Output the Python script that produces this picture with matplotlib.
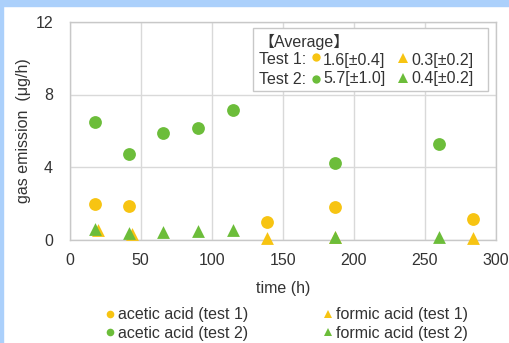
import numpy as np
import matplotlib
matplotlib.use('Agg')
import matplotlib.pyplot as plt
from matplotlib.lines import Line2D
from matplotlib.patches import Rectangle

plt.rcParams['font.family'] = ['Liberation Sans', 'DejaVu Sans', 'Noto Sans CJK JP']
plt.rcParams['font.size'] = 11.5

# data
t_acetic1 = [18, 42, 139, 187, 284]
acetic1   = [1.96, 1.83, 0.97, 1.80, 1.12]
t_acetic2 = [18, 42, 66, 90, 115, 187, 260]
acetic2   = [6.49, 4.72, 5.85, 6.14, 7.15, 4.23, 5.26]
t_formic1 = [20, 44, 139, 187, 284]
formic1   = [0.55, 0.33, 0.08, 0.14, 0.08]
t_formic2 = [18, 42, 66, 90, 115, 187, 260]
formic2   = [0.56, 0.36, 0.43, 0.45, 0.52, 0.14, 0.15]

xticks = [0, 50, 100, 150, 200, 250, 300]
yticks = [0, 4, 8, 12]

yellow = '#F7C412'
green  = '#6CBD3A'
W, H = 510, 343
fs = 11.5

fig = plt.figure(figsize=(W/100, H/100), dpi=100, facecolor='white')
# light blue frame at top and left
fig.patches.append(Rectangle((0, 1-6/H), 1, 6/H, transform=fig.transFigure, color='#abd0fb', zorder=0))
fig.patches.append(Rectangle((0, 0), 3/W, 1, transform=fig.transFigure, color='#abd0fb', zorder=0))

ax = fig.add_axes([69.7/W, 1-239.5/H, (496-69.7)/W, (239.5-22)/H])
ax.scatter(t_acetic1, acetic1, s=85, marker='o', color=yellow, zorder=3, linewidths=0)
ax.scatter(t_acetic2, acetic2, s=85, marker='o', color=green, zorder=3, linewidths=0)
ax.scatter(t_formic1, formic1, s=85, marker='^', color=yellow, zorder=4, linewidths=0, clip_on=False)
ax.scatter(t_formic2, formic2, s=85, marker='^', color=green, zorder=5, linewidths=0, clip_on=False)

ax.set_xlim(0, 300)
ax.set_ylim(0, 12)
ax.set_xticks(xticks)
ax.set_yticks(yticks)
ax.grid(True, color='#d9d9d9', linewidth=1)
ax.set_axisbelow(True)
for sp in ax.spines.values():
    sp.set_color('#c8c8c8')
    sp.set_linewidth(1)
ax.tick_params(length=0, colors='#333333', labelsize=fs)
ax.tick_params(axis='y', pad=12)
ax.tick_params(axis='x', pad=10)
ax.set_xlabel('time (h)', fontsize=fs, color='#333333', labelpad=9)
ax.set_ylabel('gas emission  (\u03bcg/h)', fontsize=fs, color='#333333', labelpad=3)

# average box
ax.add_patch(Rectangle(((253-69.7)/426.3, (239.5-91)/217.5), (488-253)/426.3, (91-28)/217.5,
                       transform=ax.transAxes, facecolor='white', edgecolor='#c8c8c8',
                       linewidth=1, zorder=6))
def ftext(x, y, s, **kw):
    fig.text(x/W, 1-y/H, s, va='center', ha='left', fontsize=fs, color='#333333', zorder=7, **kw)

ftext(258, 42, '\u3010Average\u3011')
ftext(259, 60, 'Test 1:')
ftext(259, 79, 'Test 2:')
ftext(323, 60, '1.6[\u00b10.4]')
ftext(323, 79, '5.7[\u00b11.0]')
ftext(411, 60, '0.3[\u00b10.2]')
ftext(411, 79, '0.4[\u00b10.2]')
for x, y, m, c in [(316, 57, 'o', yellow), (316, 79, 'o', green),
                   (403, 58, '^', yellow), (403, 78, '^', green)]:
    fig.add_artist(Line2D([x/W], [1-y/H], marker=m, markersize=6 if m == 'o' else 6.5,
                          color=c, markeredgewidth=0, transform=fig.transFigure, zorder=8))

handles = [Line2D([], [], ls='', marker='o', color=yellow, markersize=5.5, markeredgewidth=0),
           Line2D([], [], ls='', marker='o', color=green, markersize=5.5, markeredgewidth=0),
           Line2D([], [], ls='', marker='^', color=yellow, markersize=6, markeredgewidth=0),
           Line2D([], [], ls='', marker='^', color=green, markersize=6, markeredgewidth=0)]
labels = ['acetic acid (test 1)', 'acetic acid (test 2)', 'formic acid (test 1)', 'formic acid (test 2)']
leg = fig.legend(handles, labels, ncol=2, loc='center', bbox_to_anchor=(287/W, 1-324/H),
                 frameon=False, fontsize=fs, handlelength=0.6, handletextpad=0.2,
                 columnspacing=4.7, labelspacing=0.2)
for txt in leg.get_texts():
    txt.set_color('#333333')

fig.savefig('out.png', dpi=100)
